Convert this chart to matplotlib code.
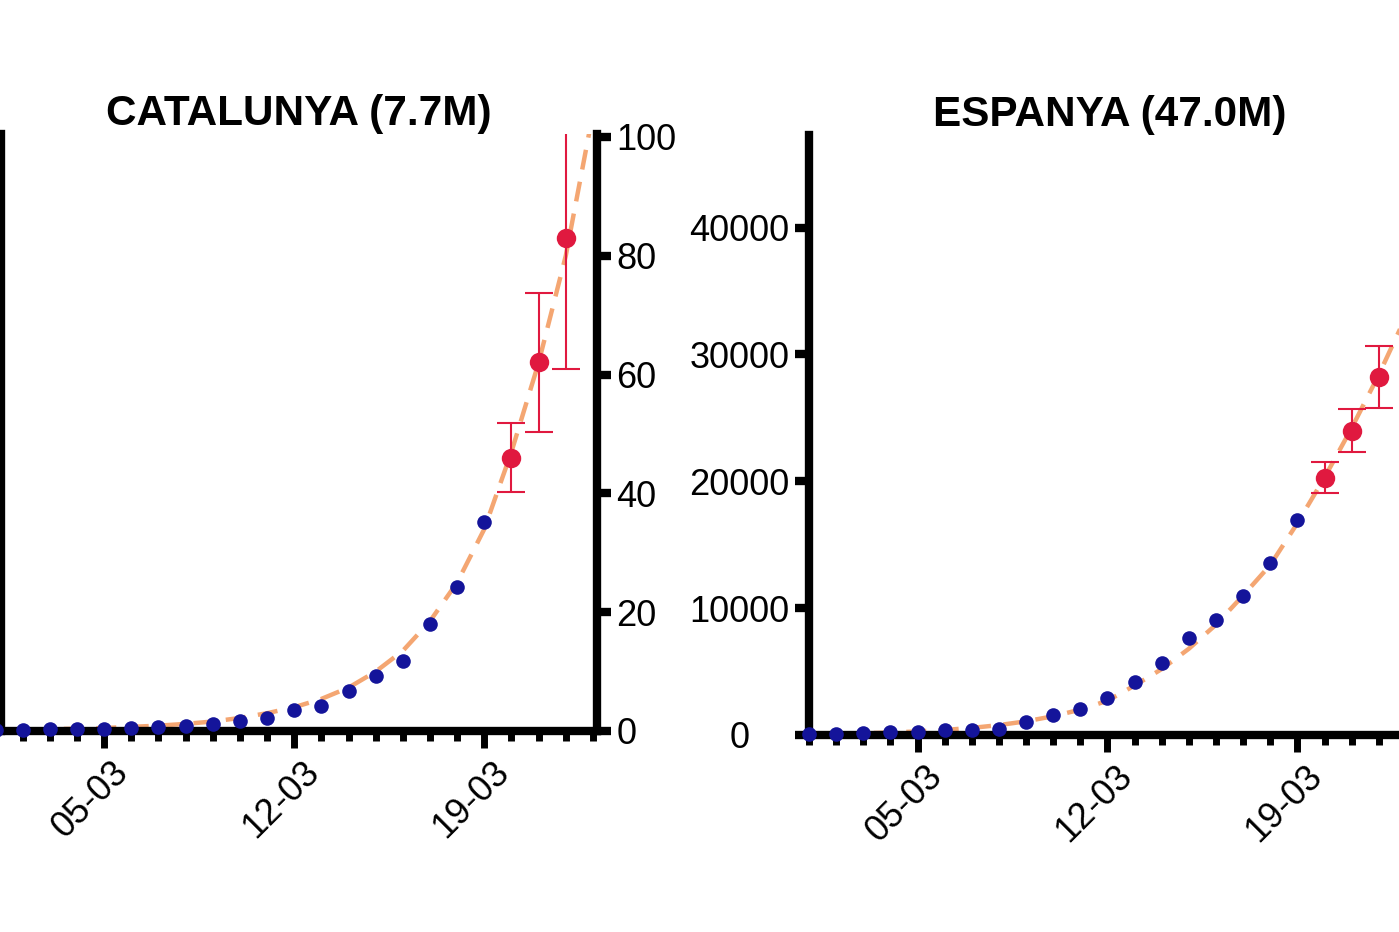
import matplotlib
matplotlib.use('Agg')
import matplotlib.pyplot as plt
from matplotlib.ticker import FixedLocator
from matplotlib.transforms import ScaledTranslation

plt.rcParams['font.family'] = ['Liberation Sans', 'DejaVu Sans']

# days of March
days_obs = list(range(1, 20))
days_pred = [20, 21, 22]
days_fit = list(range(1, 24))

major_days = [5, 12, 19]
major_labels = ['05-03', '12-03', '19-03']

# Catalunya (right-hand axis 0-100)
cat_obs = [0.2, 0.2, 0.3, 0.3, 0.4, 0.5, 0.6, 0.9, 1.2, 1.7, 2.2, 3.5, 4.2,
           6.7, 9.3, 11.8, 18.0, 24.2, 35.2]
cat_pred = [46.0, 62.1, 83.0]
cat_low = [40.2, 50.3, 61.0]
cat_high = [51.9, 73.7, 105.0]
cat_fit = [0.2, 0.25, 0.3, 0.4, 0.5, 0.7, 0.9, 1.2, 1.6, 2.2, 3.0, 4.0, 5.4,
           7.3, 10.0, 13.5, 18.5, 25.0, 34.0, 47.0, 62.0, 80.0, 104.0]

# Espanya
esp_obs = [80, 110, 160, 220, 260, 380, 430, 470, 1020, 1570, 2050, 2910,
           4170, 5670, 7640, 9060, 10940, 13540, 16930]
esp_pred = [20240, 23940, 28190]
esp_low = [19050, 22280, 25750]
esp_high = [21500, 25670, 30630]
esp_fit = [60, 90, 140, 200, 280, 400, 560, 780, 1080, 1480, 2000, 2700,
           3900, 5200, 6800, 8700, 11000, 13400, 16700, 20300, 24200, 28400,
           33000]

BLUE = '#14149a'
RED = '#e0193f'
ORANGE = '#f4a672'
W, H = 1399, 932


def draw_panel(ax, obs, pred, low, high, fit):
    ax.plot(days_fit, fit, color=ORANGE, lw=3.2, dashes=(4.5, 2.8), zorder=2)
    ax.plot(days_obs, obs, 'o', color=BLUE, ms=10.5, mec='none', zorder=4,
            clip_on=False)
    yerr = [[p - l for p, l in zip(pred, low)], [h - p for p, h in zip(pred, high)]]
    ax.errorbar(days_pred, pred, yerr=yerr, fmt='o', color=RED, ms=14,
                mec='none', elinewidth=1.5, capsize=10, capthick=1.5, zorder=5)
    ax.xaxis.set_major_locator(FixedLocator(major_days))
    ax.xaxis.set_minor_locator(FixedLocator(days_fit))
    ax.tick_params(axis='x', which='major', length=12, width=5, labelbottom=False)
    ax.tick_params(axis='x', which='minor', length=7, width=5)
    # rotated date labels, drawn as text so they can sit a bit right of the tick
    shift = ScaledTranslation(0.07, -0.236, fig.dpi_scale_trans)
    for d, lab in zip(major_days, major_labels):
        ax.text(d, 0, lab, transform=ax.get_xaxis_transform() + shift,
                rotation=45, ha='right', va='top', rotation_mode='anchor',
                fontsize=26, clip_on=False)
    for s in ax.spines.values():
        s.set_linewidth(6)
    ax.spines['top'].set_visible(False)
    ax.set_facecolor('none')


fig = plt.figure(figsize=(W / 100, H / 100), dpi=100)

# Catalunya panel
ax1 = fig.add_axes([1 / W, (H - 731) / H, 596 / W, (731 - 134) / H])
draw_panel(ax1, cat_obs, cat_pred, cat_low, cat_high, cat_fit)
ax1.set_xlim(1.2, 23.15)
ax1.set_ylim(0, 100.5)
ax1.yaxis.tick_right()
ax1.set_yticks([0, 20, 40, 60, 80, 100])
ax1.tick_params(axis='y', length=10, width=6, labelsize=26, pad=4)
ax1.set_title('CATALUNYA (7.7M)', fontsize=30.4, fontweight='bold', pad=6)

# Espanya panel
ax2 = fig.add_axes([809 / W, (H - 735) / H, 601 / W, (735 - 135) / H])
draw_panel(ax2, esp_obs, esp_pred, esp_low, esp_high, esp_fit)
ax2.set_xlim(1, 23.15)
ax2.set_ylim(0, 47300)
ax2.spines['right'].set_visible(False)
ax2.set_yticks([0, 10000, 20000, 30000, 40000])
ax2.tick_params(axis='y', length=10, width=6, labelsize=26, pad=40)
for lab in ax2.get_yticklabels():
    lab.set_ha('center')
ax2.set_title('ESPANYA (47.0M)', fontsize=30.4, fontweight='bold', pad=1.5)

fig.savefig('out.png', dpi=100, facecolor='white')
